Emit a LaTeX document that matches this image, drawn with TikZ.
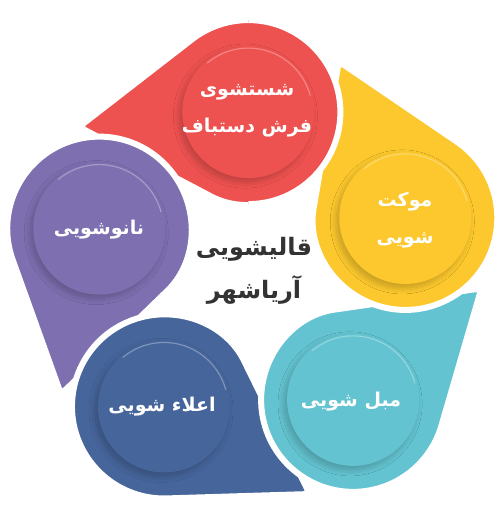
\documentclass[tikz,border=0pt]{standalone}
\usepackage{fontspec}
\newfontfamily\fa[Script=Arabic,BoldFont={DejaVu Sans Bold}]{DejaVu Sans}
\TeXXeTstate=1
\usetikzlibrary{calc,shadows.blur}
\definecolor{cred}{RGB}{238,82,80}
\definecolor{cyel}{RGB}{252,200,45}
\definecolor{ccya}{RGB}{99,195,208}
\definecolor{cblu}{RGB}{70,101,155}
\definecolor{cpur}{RGB}{125,111,176}
\definecolor{ctxt}{RGB}{51,51,51}
\tikzset{
  dropfill/.style={fill=#1, draw=white, line width=6pt},
  innercirc/.style={fill=#1, blur shadow={shadow xshift=-3pt, shadow yshift=-4pt, shadow blur steps=10, shadow opacity=22, shadow blur radius=6pt}},
  lbl/.style={text=white, font=\fa\bfseries\fontsize{19}{37}\selectfont, align=center, inner sep=0pt},
  ttl/.style={text=ctxt, font=\fa\bfseries\fontsize{24}{43}\selectfont, align=center, inner sep=0pt}
}
\newcommand\mydrop[3]{% #1 angle, #2 colour, #3 name
  \coordinate (#3) at ($(C)+(#1:161)$);
  \coordinate (#3tip) at ($(#3)+(#1+93:170)$);
  \path[dropfill=#2] ($(#3)+(#1+36:92)$) [rounded corners=6pt] -- (#3tip) -- ($(#3)+(#1+150:92)$) [sharp corners] arc[start angle=#1+150, end angle=#1+396, radius=92] -- cycle;
}
\newcommand\myinner[2]{% #1 name, #2 colour
  \fill[innercirc=#2] (#1) circle[radius=66];
  \draw[white, opacity=0.3, line width=1.2pt] ($(#1)+(15:64)$) arc[start angle=15, end angle=130, radius=64];
}
\begin{document}
\begin{tikzpicture}[x=1pt,y=1pt]
\useasboundingbox (0,0) rectangle (500,521);
\coordinate (C) at (254,248);
\mydrop{92}{cred}{R}
\mydrop{164}{cpur}{Pu}
\mydrop{-124}{cblu}{B}
\mydrop{-52}{ccya}{Cy}
\mydrop{20}{cyel}{Y}
\begin{scope}
  \clip ($(R)+(0,-120)$) rectangle ($(R)+(120,120)$);
  \fill[cred, draw=white, line width=6pt] (R) circle[radius=92];
\end{scope}
\myinner{R}{cred}
\myinner{Pu}{cpur}
\myinner{B}{cblu}
\myinner{Cy}{ccya}
\myinner{Y}{cyel}
\node[lbl] (tR) at (247,410) {\beginR شستشوی\endR\\\beginR فرش دستباف\endR};
\node[lbl] (tY) at (405,301) {\beginR موکت\endR\\\beginR شویی\endR};
\node[lbl] (tC) at (351,119) {\beginR مبل شویی\endR};
\node[lbl] (tB) at (162,114) {\beginR اعلاء شویی\endR};
\node[lbl] (tP) at (99,291) {\beginR نانوشویی\endR};
\node[ttl] (tM) at (254,250) {\beginR قالیشویی\endR\\\beginR آریاشهر\endR};
\end{tikzpicture}
\end{document}
